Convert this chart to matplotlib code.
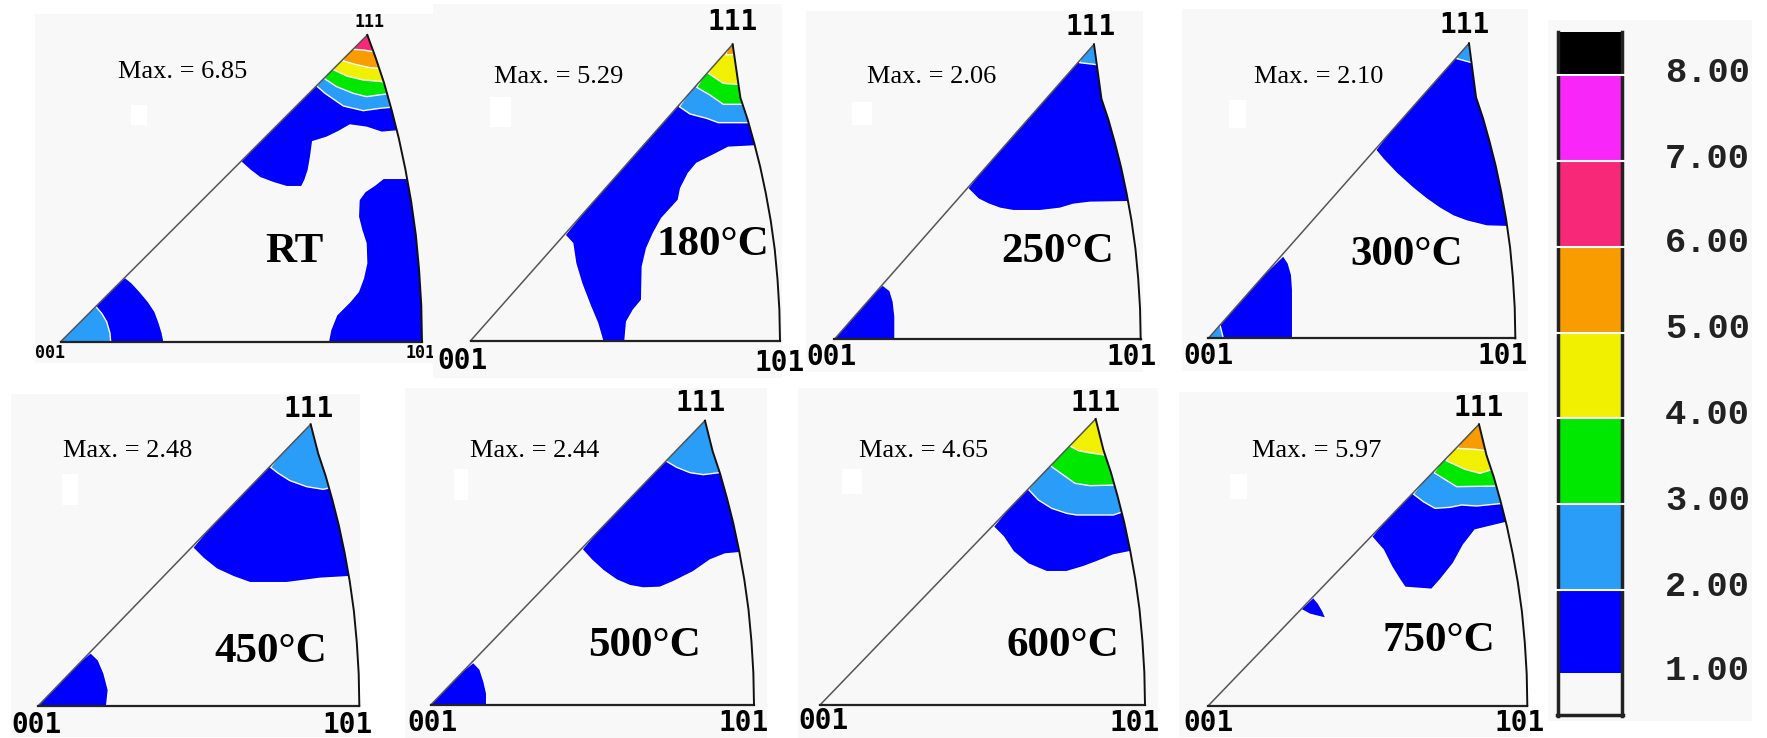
import matplotlib
matplotlib.use('Agg')
import matplotlib.pyplot as plt
from matplotlib.patches import Polygon, Rectangle

W, H = 1767, 738
BG = '#f8f8f8'
BLUE, SKY, GREEN, YELLOW, ORANGE, PINK = '#0000ff', '#2a9df8', '#00e800', '#f0f000', '#f89c00', '#f82878'

# scale bar
bar_edges = [8.5, 8.00, 7.00, 6.00, 5.00, 4.00, 3.00, 2.00, 1.00, 0.5]
bar_colors = ['black', '#f826f8', PINK, ORANGE, YELLOW, GREEN, SKY, BLUE, BG]
bar_labels = ['8.00', '7.00', '6.00', '5.00', '4.00', '3.00', '2.00', '1.00']
bar_tops = [32, 75, 161, 247, 333, 418, 504, 590, 673, 716]

# 101-111 edge of the triangle, as fractions of the 001-101 side
arc_x = [1, .998, .992, .983, .970, .954, .936, .916, .895, .872, .849]
arc_y = [0, .100, .198, .295, .388, .477, .562, .641, .716, .785, .849]

# contour curves (x, y in crop pixels x3)
rt_up1 = [(722, 485), (750, 510), (780, 533), (820, 548), (860, 560), (905, 560), (915, 540), (925, 510), (932, 470),
          (938, 425), (980, 412), (1015, 395), (1050, 375), (1100, 382), (1145, 397), (1190, 393)]
rt_up2 = [(950, 258), (975, 280), (1030, 318), (1090, 332), (1140, 325), (1172, 322)]
rt_up3 = [(972, 235), (1010, 260), (1060, 280), (1100, 290), (1135, 285), (1160, 282)]
rt_up4 = [(998, 208), (1040, 228), (1090, 240), (1148, 245)]
rt_up5 = [(1028, 182), (1065, 193), (1110, 203), (1138, 205)]
rt_up6 = [(1060, 148), (1090, 150), (1120, 155)]
rt_low1 = [(375, 832), (395, 848), (420, 875), (445, 905), (465, 935), (478, 970), (487, 1000), (492, 1025)]
rt_low2 = [(288, 920), (305, 940), (320, 965), (330, 1000), (332, 1025)]
rt_right = [(985, 1050), (985, 1025), (992, 990), (1010, 945), (1050, 905), (1075, 875), (1090, 835), (1100, 790),
            (1098, 730), (1085, 690), (1075, 650), (1077, 600), (1095, 575), (1125, 555), (1150, 535),
            (1300, 535), (1300, 1050)]

p180_up1 = [(405, 705), (428, 730), (437, 790), (455, 850), (480, 915), (503, 970), (518, 1022), (518, 1040),
            (585, 1040), (585, 1022), (590, 965), (610, 930), (635, 900), (637, 800), (650, 745), (670, 700),
            (695, 655), (745, 600), (752, 565), (775, 520), (800, 490), (850, 465), (895, 442), (990, 437)]
p180_up2 = [(748, 320), (780, 342), (830, 355), (865, 368), (975, 368)]
p180_up3 = [(800, 262), (840, 285), (880, 313), (965, 313)]
p180_up4 = [(835, 220), (880, 250), (945, 255)]
p180_up5 = [(888, 165), (915, 163)]

p250_up1 = [(503, 565), (535, 597), (565, 612), (600, 625), (640, 632), (720, 632), (780, 625), (820, 613),
            (870, 607), (992, 605)]
p250_up2 = [(838, 188), (900, 195)]
p250_low1 = [(248, 855), (270, 872), (280, 905), (285, 950), (285, 1018)]

p300_up1 = [(617, 450), (640, 478), (680, 520), (730, 565), (770, 597), (810, 625), (850, 648), (890, 663),
            (950, 678), (1015, 680)]
p300_up2 = [(858, 175), (912, 190)]
p300_low1 = [(340, 767), (355, 790), (365, 825), (368, 870), (368, 1015)]
p300_low2 = [(150, 975), (160, 1015)]

p450_up1 = [(578, 503), (610, 535), (650, 567), (700, 590), (750, 608), (860, 608), (960, 595), (1048, 590)]
p450_up2 = [(812, 262), (835, 280), (870, 302), (920, 320), (970, 328), (995, 322)]
p450_low1 = [(272, 818), (295, 840), (312, 880), (325, 930), (320, 977)]

p500_up1 = [(546, 508), (575, 540), (610, 572), (650, 600), (690, 617), (730, 624), (780, 622), (820, 605),
            (880, 575), (930, 540), (975, 522), (1020, 518)]
p500_up2 = [(798, 243), (830, 262), (870, 278), (910, 284), (965, 277)]
p500_low1 = [(220, 847), (240, 868), (252, 905), (260, 940), (260, 975)]

p600_up1 = [(610, 440), (640, 470), (670, 515), (715, 552), (770, 575), (830, 575), (880, 560), (920, 545),
            (970, 525), (1020, 515)]
p600_up2 = [(715, 328), (745, 360), (785, 385), (830, 400), (860, 405), (970, 405), (1000, 395)]
p600_up3 = [(782, 258), (820, 285), (855, 310), (900, 317), (982, 315)]
p600_up4 = [(840, 198), (865, 212), (890, 217), (945, 225)]

p750_up1 = [(605, 470), (640, 510), (665, 560), (690, 600), (705, 622), (785, 628), (810, 600), (850, 550),
            (880, 495), (915, 450), (1010, 427)]
p750_up2 = [(730, 342), (760, 365), (795, 385), (840, 382), (875, 375), (920, 378), (1000, 370)]
p750_up3 = [(792, 278), (860, 320), (985, 318)]
p750_up4 = [(828, 242), (885, 268), (930, 280), (968, 268)]
p750_up5 = [(862, 205), (915, 208), (948, 212)]
p750_spot = [(392, 688), (430, 652), (445, 670), (458, 692), (468, 715), (420, 703)]

names = ['RT', '180°C', '250°C', '300°C', '450°C', '500°C', '600°C', '750°C']
maxima = ['6.85', '5.29', '2.06', '2.10', '2.48', '2.44', '4.65', '5.97']

# panel crops on the page, and what sits in each
crops = [(0, 0, 440, 370), (430, 0, 380, 380), (800, 0, 370, 380), (1170, 0, 370, 380),
         (0, 380, 400, 358), (400, 380, 390, 358), (790, 380, 390, 358), (1170, 380, 390, 358)]
origin = [(182, 1025), (122, 1022), (103, 1018), (115, 1015), (115, 977), (92, 975), (90, 975), (115, 977)]
apex = [(1102, 105), (908, 133), (882, 133), (897, 130), (932, 133), (915, 122), (917, 117), (927, 133)]
right_x = [1266, 1050, 1022, 1036, 1078, 1062, 1065, 1072]
bg_box = [(105, 42, 1300, 1090), (10, 12, 1057, 1135), (18, 33, 1030, 1115), (37, 27, 1075, 1112),
          (33, 42, 1080, 1072), (15, 25, 1100, 1074), (25, 25, 1105, 1074), (27, 37, 1075, 1070)]
white_box = [(393, 315, 440, 375), (180, 292, 243, 382), (157, 305, 215, 375), (177, 300, 228, 383),
             (186, 282, 233, 375), (163, 268, 205, 360), (155, 268, 215, 343), (180, 282, 232, 356)]
max_pos = [(353, 235), (193, 248), (200, 248), (253, 248), (190, 230), (210, 230), (207, 230), (247, 230)]
name_pos = [(795, 785), (678, 765), (605, 785), (540, 795), (642, 845), (563, 827), (648, 828), (638, 812)]
pos_111 = [(1107, 65), (908, 65), (872, 82), (885, 75), (925, 88), (903, 70), (917, 68), (925, 85)]
pos_001 = [(150, 1060), (98, 1082), (94, 1070), (114, 1068), (108, 1035), (96, 1028), (100, 1022), (115, 1030)]
pos_101 = [(1262, 1060), (1050, 1090), (994, 1070), (998, 1068), (1042, 1035), (1031, 1028), (1033, 1030), (1048, 1030)]
label_size = [12, 20, 20, 20, 20, 20, 20, 20]

upper = [[(rt_up1, BLUE), (rt_up2, SKY), (rt_up3, GREEN), (rt_up4, YELLOW), (rt_up5, ORANGE), (rt_up6, PINK)],
         [(p180_up1, BLUE), (p180_up2, SKY), (p180_up3, GREEN), (p180_up4, YELLOW), (p180_up5, ORANGE)],
         [(p250_up1, BLUE), (p250_up2, SKY)],
         [(p300_up1, BLUE), (p300_up2, SKY)],
         [(p450_up1, BLUE), (p450_up2, SKY)],
         [(p500_up1, BLUE), (p500_up2, SKY)],
         [(p600_up1, BLUE), (p600_up2, SKY), (p600_up3, GREEN), (p600_up4, YELLOW)],
         [(p750_up1, BLUE), (p750_up2, SKY), (p750_up3, GREEN), (p750_up4, YELLOW), (p750_up5, ORANGE)]]
lower = [[(rt_low1, BLUE), (rt_low2, SKY)], [], [(p250_low1, BLUE)], [(p300_low1, BLUE), (p300_low2, SKY)],
         [(p450_low1, BLUE)], [(p500_low1, BLUE)], [], []]
closed = [[rt_right], [], [], [], [], [], [], [p750_spot]]

fig = plt.figure(figsize=(W / 100, H / 100), dpi=100, facecolor='white')


def box(ax, b, color):
    ax.add_patch(Rectangle((b[0], b[1]), b[2] - b[0], b[3] - b[1], fc=color, ec='none', zorder=0, clip_on=False))


for i in range(len(names)):
    x0, y0, w, h = crops[i]
    ax = fig.add_axes([x0 / W, 1 - (y0 + h) / H, w / W, h / H])
    ax.set_xlim(0, w * 3)
    ax.set_ylim(h * 3, 0)
    ax.axis('off')
    box(ax, bg_box[i], BG)
    box(ax, white_box[i], 'white')

    ox, oy = origin[i]
    ax_, ay_ = apex[i]
    side = right_x[i] - ox
    edge = [(ox + side * a, oy - side * b) for a, b in zip(arc_x, arc_y)]
    edge[-1] = (ax_, ay_)
    tri = Polygon([(ox, oy)] + edge, closed=True, fc='none', ec='none', zorder=1)
    ax.add_patch(tri)

    shapes = []
    for curve, col in upper[i]:
        ex, ey = curve[-1]
        shapes.append((curve + [(ex + 150, ey), (ex + 150, ay_ - 50), (ax_, ay_ - 50)], col))
    for curve, col in lower[i]:
        ex, ey = curve[-1]
        shapes.append((curve + [(ex, oy + 30), (ox - 30, oy + 30), (ox - 30, oy)], col))
    for curve in closed[i]:
        shapes.append((curve, BLUE))
    for pts, col in shapes:
        p = Polygon(pts, closed=True, fc=col, ec='white', lw=1.0, zorder=2)
        ax.add_patch(p)
        p.set_clip_path(tri)

    # triangle outline
    ax.plot([ox, ax_], [oy, ay_], color='#555555', lw=1.1, zorder=3)
    ax.plot([ox, right_x[i]], [oy, oy], color='#222222', lw=1.6, zorder=3)
    ax.plot([e[0] for e in edge], [e[1] for e in edge], color='#111111', lw=1.4, zorder=3)

    ax.text(max_pos[i][0], max_pos[i][1], 'Max. = ' + maxima[i], family='Liberation Serif', fontsize=19,
            va='baseline', ha='left', zorder=4)
    ax.text(name_pos[i][0], name_pos[i][1], names[i], family='Liberation Serif', weight='bold', fontsize=31,
            va='baseline', ha='left', zorder=4)
    for pos, s in [(pos_111, '111'), (pos_001, '001'), (pos_101, '101')]:
        ax.text(pos[i][0], pos[i][1], s, family='DejaVu Sans Mono', weight='bold', fontsize=label_size[i],
                va='center', ha='center', zorder=4)

# scale bar, page pixels
cb = fig.add_axes([0, 0, 1, 1])
cb.set_xlim(0, W)
cb.set_ylim(H, 0)
cb.axis('off')
cb.patch.set_alpha(0)
box(cb, (1548, 20, 1752, 721), BG)
for k in range(len(bar_colors)):
    cb.bar(1590, bar_tops[k + 1] - bar_tops[k], width=66, bottom=bar_tops[k], color=bar_colors[k], zorder=2)
    if k < 7:
        cb.plot([1556, 1624], [bar_tops[k + 1], bar_tops[k + 1]], color='white', lw=1.5, zorder=4)
cb.plot([1558, 1558], [32, 716], color='#222222', lw=2.5, zorder=3)
cb.plot([1622, 1622], [32, 716], color='#222222', lw=2.5, zorder=3)
cb.plot([1557, 1623], [715, 715], color='#222222', lw=2.5, zorder=3)
label_y = [72, 158, 243, 328, 414, 500, 586, 671]
for s, y in zip(bar_labels, label_y):
    cb.text(1750, y, s, family='Liberation Mono', weight='bold', fontsize=25.5, va='center', ha='right', color='#222222')

fig.savefig('out.png', dpi=100)
